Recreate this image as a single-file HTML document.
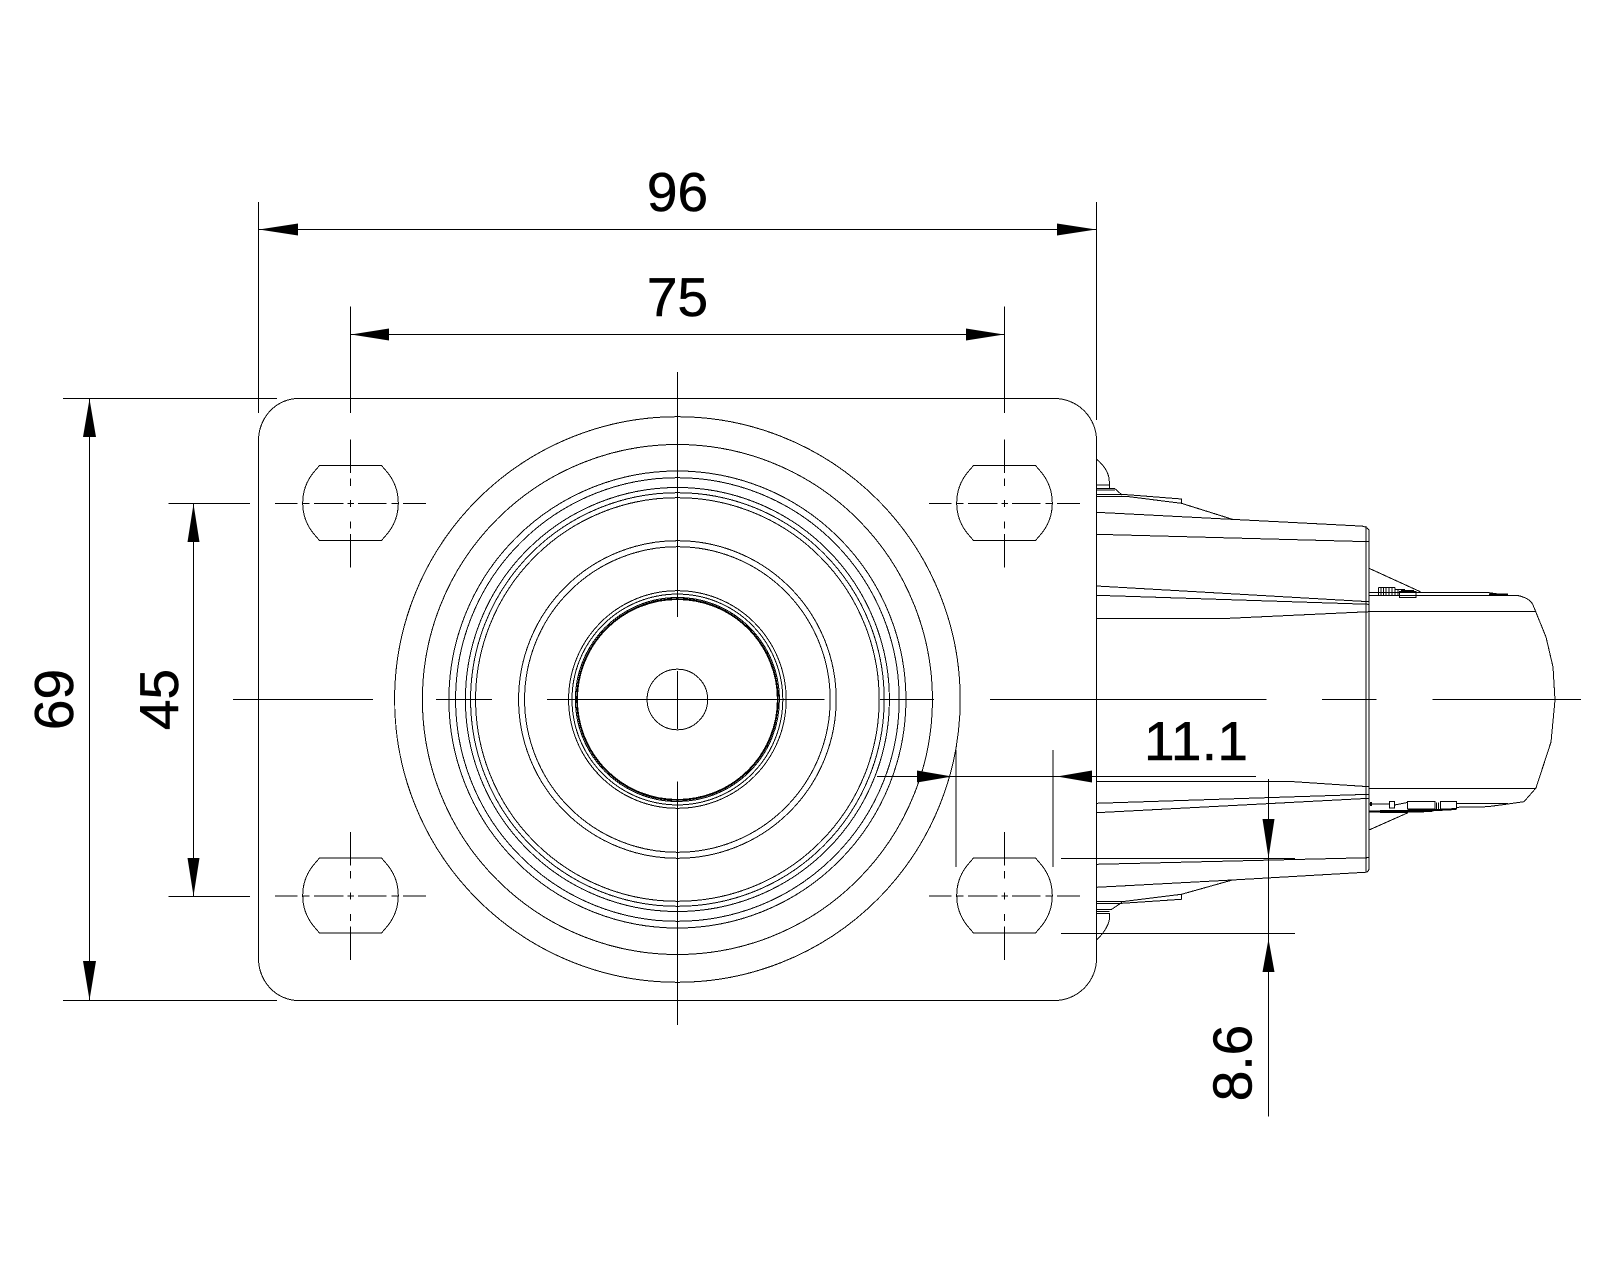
<!DOCTYPE html>
<html><head><meta charset="utf-8"><style>html,body{margin:0;padding:0;background:#fff}svg{display:block}text{font-family:"Liberation Sans",Arial,sans-serif;font-size:55px;fill:#000;stroke:#000;stroke-width:.5px;text-anchor:middle}</style></head><body>
<svg width="1600" height="1280" viewBox="0 0 1600 1280" xmlns="http://www.w3.org/2000/svg">
<defs>
<g id="cl" fill="none" stroke="#000" stroke-width="1" shape-rendering="crispEdges">
<path d="M-75.5 0H-53M-47.5 0H-41M-36.5 0H-7M-3 0H3.5M7.5 0H36M41 0H48M52.5 0H75.5"/>
<path d="M0 -64V-30.5M0 -25V-17.5M0 -3.500V3.500M0 18V25M0 30.500V64"/>
<path d="M-31 -38H31L37 -31A48.500 48.500 0 0 1 37 30L31 37H-31L-37 30A48.500 48.500 0 0 1 -37 -31Z"/>
</g>
</defs>
<rect width="1600" height="1280" fill="#fff"/>
<g fill="none" stroke="#000" stroke-width="1" shape-rendering="crispEdges">
<!-- plate -->
<path d="M298 398.500H1054.500A42 42 0 0 1 1096.500 440.500V958.500A42 42 0 0 1 1054.500 1000.500H298A40 42 0 0 1 258.500 958.500V440.500A40 42 0 0 1 298 398.500Z"/>
<!-- circles -->
<g>
<circle cx="677.400" cy="699.500" r="282.800"/><circle cx="677.400" cy="699.500" r="255"/><circle cx="677.400" cy="699.500" r="228.500"/><circle cx="677.400" cy="699.500" r="221.800"/><circle cx="677.400" cy="699.500" r="212"/><circle cx="677.400" cy="699.500" r="206.800"/><circle cx="677.400" cy="699.500" r="201.800"/><circle cx="677.400" cy="699.500" r="158.800"/><circle cx="677.400" cy="699.500" r="152.800"/><circle cx="677.400" cy="699.500" r="108.800"/><circle cx="677.400" cy="699.500" r="105.400"/><circle cx="677.400" cy="699.500" r="102"/><circle cx="677.400" cy="699.500" r="100"/><circle cx="677.400" cy="699.500" r="100.800"/><circle cx="677.400" cy="699.500" r="30.300"/>
</g>
<!-- main centre lines -->
<path d="M233 699.500H373M436 699.500H492M547 699.500H824.500M880 699.500H934M990 699.500H1266.500M1322 699.500H1376.500M1432.500 699.500H1581"/>
<path d="M677.500 372V617M677.500 671V729M677.500 781.500V1025"/>
<!-- right body upper -->
<path d="M1096.500 459Q1109.300 470 1109.300 481.700V488.300"/>
<path d="M1096.500 485H1109.300M1096.500 488.300H1114.500L1122 495M1096.500 490H1115"/>
<path d="M1096.500 494.300H1122L1181.400 499V503.300L1232.400 519.300"/>
<path d="M1096.500 496.700H1129L1181.400 503.300"/>
<path d="M1096.500 512.300L1360 526Q1366 526 1369 530V868Q1369 872.300 1365 872.300L1232.400 880L1096.500 887.300"/>
<path d="M1366 526V872"/>
<path d="M1096.500 534.300L1369 541.700M1096.500 586L1369 601.700M1096.500 595.300L1369 604.300"/>
<path d="M1096.500 618.300H1229L1369 611.700"/>
<!-- wheel upper -->
<path d="M1369 568.300L1420.300 591.700"/>
<path d="M1369 592.700H1489L1508 595.300M1369 595.300H1517Q1530 598 1533 605L1546 637L1553 667L1555 700L1551 742L1536 788L1524 801.700L1508 804"/>
<path d="M1369 611.300H1535"/>
<path d="M1489 594.500H1508" stroke-width="2"/>
<rect x="1399.500" y="591.500" width="16.500" height="6"/>
<path d="M1378.500 587.500H1395M1378.500 587.500V595M1381 587.500V595M1383.500 587.500V595M1386 587.500V595M1389 587.500V595M1392 587.500V595M1395 587.500V595M1398 589.500V595M1395 589.500H1405M1401 590.500H1414"/>
<!-- wheel lower -->
<path d="M1369 788.300H1536"/>
<path d="M1456.500 803.300H1508M1456.500 807.300L1487.600 806.700L1508 804"/>
<rect x="1389.500" y="801.500" width="5" height="6.500"/>
<rect x="1407.500" y="801.500" width="27.500" height="7.500"/>
<rect x="1440.500" y="801.500" width="16" height="7.500"/>
<path d="M1436.500 802.500V809M1438.500 802.500V809M1369 804H1389M1394.500 805L1407.500 802.500"/>
<path d="M1369.500 811.700H1408L1456 809" stroke-width="2"/>
<path d="M1380 811.500H1400L1432 810.500" stroke-width="3"/>
<path d="M1369 830L1408 812.700"/>
<path d="M1371 802V806" stroke-width="2"/>
<!-- body lower -->
<path d="M1096.500 781.300H1287.600L1369 786.700"/>
<path d="M1096.500 803.300L1369 794.300M1096.500 812.700L1369 798.300M1096.500 864.300L1369 857.700"/>
<path d="M1181.400 894.300L1232.400 880M1181.400 894.300V899.300"/>
<path d="M1096.500 901.700H1122L1181.400 894.300M1096.500 903.300H1122L1181.400 899.300"/>
<path d="M1096.500 909.300H1111.700L1122 902.300M1096.500 911.700H1109.300M1096.500 913.300H1109.300V920Q1107 930 1096.500 940"/>
<!-- extension lines -->
<path d="M258.500 202V413M1096.500 202V420M350.500 306.500V413M1004.500 306.500V413"/>
<path d="M63 398.500H277M63 1000.500H277"/>
<path d="M168.500 503.500H250M168.500 896.500H250"/>
<path d="M956 750V867M1053 750V867"/>
<path d="M1061 858.500H1295M1061 933.500H1295"/>
<!-- dim lines -->
<path d="M258.500 229.500H1096.500M350.500 334.500H1004.500"/>
<path d="M89.500 398.500V1000.500M193.500 503.500V896.500"/>
<path d="M877 776.500H1256"/>
<path d="M1268.500 779V1116.500"/>
</g>
<use href="#cl" x="350.500" y="503.500"/>
<use href="#cl" x="1004.500" y="503.500"/>
<use href="#cl" x="350.500" y="896"/>
<use href="#cl" x="1004.500" y="896"/>
<!-- arrowheads -->
<g fill="#000">
<path d="M259 229.500L298 223.500V235.500Z"/><path d="M1096 229.500L1057 223.500V235.500Z"/>
<path d="M351 334.500L389 328.500V340.500Z"/><path d="M1004 334.500L966 328.500V340.500Z"/>
<path d="M89.500 399L83 437H96Z"/><path d="M89.500 1000L83 961H96Z"/>
<path d="M193.500 504L187.500 542H199.500Z"/><path d="M193.500 896L187.500 858H199.500Z"/>
<path d="M952 776.500L917 770.500V782.500Z"/><path d="M1057 776.500L1092 770.500V782.500Z"/>
<path d="M1268.500 858L1262.500 819H1274.500Z"/><path d="M1268.500 939L1262.500 972H1274.500Z"/>
</g>
<!-- labels -->
<text x="677.500" y="211">96</text>
<text x="677.500" y="316">75</text>
<text x="1196" y="760" textLength="104">11.1</text>
<text transform="translate(73 699.500) rotate(-90)">69</text>
<text transform="translate(178 699.500) rotate(-90)">45</text>
<text transform="translate(1251.500 1063) rotate(-90)">8.6</text>
</svg>
</body></html>
